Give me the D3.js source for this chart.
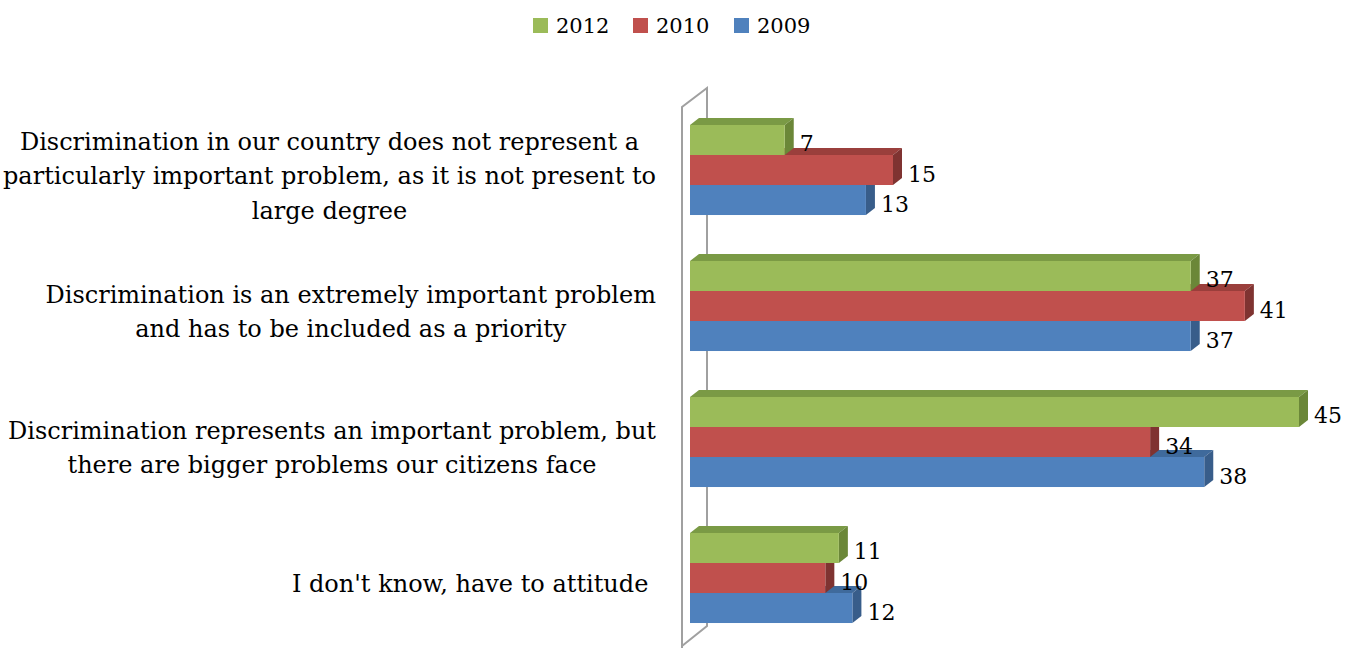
<!DOCTYPE html>
<html>
<head>
<meta charset="utf-8">
<script src="https://cdn.jsdelivr.net/npm/d3@7"></script>
<style>
  html, body { margin: 0; padding: 0; background: #fff; }
  svg { display: block; }
  text { font-family: "DejaVu Serif", "Liberation Serif", serif; fill: #000; white-space: pre; }
</style>
</head>
<body>
<svg id="chart" width="1346" height="648"></svg>
<script>
// Survey categories (each label split into its display lines)
const categories = [
  "Discrimination in our country does not represent a|particularly important problem, as it is not present to|large degree",
  "Discrimination is an extremely important problem|and has to be included as a priority",
  "Discrimination represents an important problem, but|there are bigger problems our citizens face",
  "I don't know, have to attitude "
];
const seriesNames = ["2012", "2010", "2009"];
const values2012 = [7, 37, 45, 11];
const values2010 = [15, 41, 34, 10];
const values2009 = [13, 37, 38, 12];

const seriesValues = { "2012": values2012, "2010": values2010, "2009": values2009 };
const colors = {
  "2012": { front: "#9bbb59", top: "#7a9a45", side: "#6b8738" },
  "2010": { front: "#c0504d", top: "#9a3f3c", side: "#7f3331" },
  "2009": { front: "#4f81bd", top: "#3f6a9c", side: "#385d8a" }
};

const svg = d3.select("#chart");
const depthX = 9, depthY = 7;

const x = d3.scaleLinear().domain([0, 45]).range([690, 1299]);
const y0 = d3.scaleBand().domain(d3.range(categories.length))
  .range([102, 646]).paddingInner(0.338).paddingOuter(0.169);
const y1 = d3.scaleBand().domain(seriesNames).range([0, y0.bandwidth()]);

// Side wall of the category axis
svg.append("path")
  .attr("d", "M682,648 L682,107 L707,88 L707,626 L682,646")
  .attr("fill", "none")
  .attr("stroke", "#a0a0a0")
  .attr("stroke-width", 2);

// Flatten into drawable bars; lower bars first so upper ones overlap their top faces
const bars = [];
categories.forEach((c, i) => {
  seriesNames.slice().reverse().forEach(s => {
    bars.push({ cat: i, series: s, value: seriesValues[s][i] });
  });
});

const barG = svg.append("g");
bars.forEach(b => {
  const x0 = x(0), x1 = x(b.value);
  const yt = y0(b.cat) + y1(b.series), yb = yt + y1.bandwidth();
  const col = colors[b.series];
  const g = barG.append("g");
  g.append("path")
    .attr("d", `M${x0},${yt} L${x0 + depthX},${yt - depthY} L${x1 + depthX},${yt - depthY} L${x1},${yt} Z`)
    .attr("fill", col.top);
  g.append("path")
    .attr("d", `M${x1},${yt} L${x1 + depthX},${yt - depthY} L${x1 + depthX},${yb - depthY} L${x1},${yb} Z`)
    .attr("fill", col.side);
  g.append("rect")
    .attr("x", x0).attr("y", yt)
    .attr("width", x1 - x0).attr("height", yb - yt)
    .attr("fill", col.front);
});

// Value labels
const labelG = svg.append("g");
bars.forEach(b => {
  const yc = y0(b.cat) + y1(b.series) + y1.bandwidth() / 2;
  labelG.append("text")
    .attr("x", x(b.value) + depthX + 6)
    .attr("y", yc + 4)
    .attr("dominant-baseline", "central")
    .attr("font-size", 22)
    .text(b.value);
});

// Category labels: block right-aligned, lines centred inside the block
const rightEdge = 656, lineH = 34.5, fontSize = 24;
categories.forEach((c, i) => {
  const lines = c.split("|");
  const g = svg.append("g");
  const yc = y0(i) + y0.bandwidth() / 2 + 6;
  const texts = lines.map((ln, k) => g.append("text")
    .attr("font-size", fontSize)
    .attr("text-anchor", "middle")
    .attr("dominant-baseline", "central")
    .attr("y", yc + (k - (lines.length - 1) / 2) * lineH)
    .text(ln));
  const maxW = d3.max(texts, t => t.node().getComputedTextLength());
  texts.forEach(t => t.attr("x", rightEdge - maxW / 2));
});

// Legend
const legendItems = [
  { name: "2012", x: 533 },
  { name: "2010", x: 633 },
  { name: "2009", x: 734 }
];
const lg = svg.append("g");
legendItems.forEach(d => {
  lg.append("rect").attr("x", d.x).attr("y", 18).attr("width", 15).attr("height", 15)
    .attr("fill", colors[d.name].front);
  lg.append("text").attr("x", d.x + 23).attr("y", 26)
    .attr("dominant-baseline", "central").attr("font-size", 21)
    .text(d.name);
});
</script>
</body>
</html>
